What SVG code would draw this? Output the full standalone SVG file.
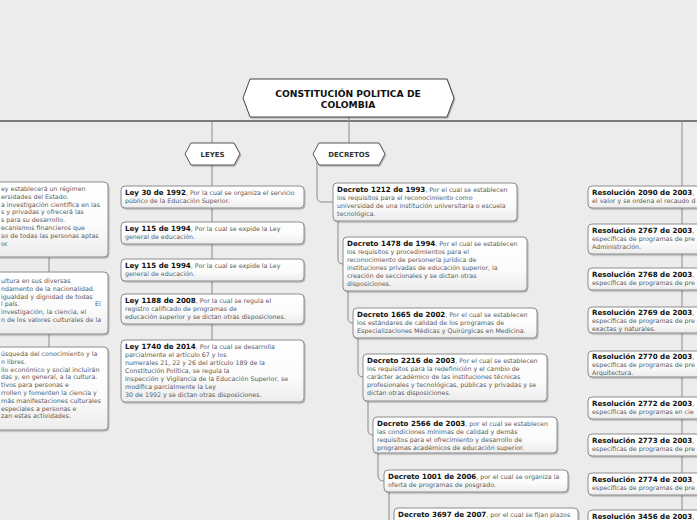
<svg xmlns="http://www.w3.org/2000/svg" width="697" height="520" viewBox="0 0 697 520">
<defs>
<linearGradient id="g" x1="0" y1="0" x2="0" y2="1"><stop offset="0" stop-color="#ffffff"/><stop offset="0.6" stop-color="#fbfbfb"/><stop offset="1" stop-color="#ececec"/></linearGradient>
<filter id="sh" x="-10%" y="-10%" width="120%" height="140%"><feDropShadow dx="1" dy="1.2" stdDeviation="0.7" flood-color="#000" flood-opacity="0.25"/></filter>
<style>
.bx{fill:url(#g);stroke:#8c8c8c;stroke-width:1;filter:url(#sh)}
.hx{fill:#fff;stroke:#444;stroke-width:1;filter:url(#sh)}
.t{font-family:"DejaVu Sans",Verdana,sans-serif;font-size:6.3px;fill:#5a5a5a}
.b{font-weight:bold;fill:#111;font-size:7.1px}
.h{font-family:"DejaVu Sans",Verdana,sans-serif;font-weight:bold;fill:#111;text-anchor:middle}
.c{fill:none;stroke:#8a8a8a;stroke-width:1}
</style>
</defs>
<rect width="697" height="520" fill="#ececec"/>
<g id="connectors">
<line x1="0" y1="121" x2="697" y2="121" stroke="#555" stroke-width="1.3"/>
<path class="c" d="M349,117 V143"/>
<path class="c" d="M212,121 V143"/>
<path class="c" d="M212,165 V186 M212,208 V222 M212,244 V259 M212,281 V294 M212,324 V340"/>
<path class="c" d="M317,162 V197 Q317,202 322,202 H333"/>
<path class="c" d="M338,221 V259 Q338,264 343,264 H343"/>
<path class="c" d="M348,291 V318 Q348,323 353,323"/>
<path class="c" d="M358,338 V372 Q358,377 363,377"/>
<path class="c" d="M368,401 V430 Q368,435 373,435"/>
<path class="c" d="M378,453 V476 Q378,481 384,481"/>
<path class="c" d="M389,491 V520"/>
<path class="c" d="M49,257 V272 M49,334 V347"/>
<path class="c" d="M682,121 V186 M682,208 V224 M682,254 V268 M682,290 V307 M682,333 V351 M682,377 V397 M682,419 V434 M682,456 V473 M682,495 V510"/>
</g>
<g id="title">
<polygon class="hx" points="243,98 250,79 447,79 454,98 447,117 250,117"/>
<text class="h" x="348" y="96.5" font-size="9.2">CONSTITUCIÓN POLITICA DE</text>
<text class="h" x="348" y="107.5" font-size="9.2">COLOMBIA</text>
</g>
<g id="leyes">
<polygon class="hx" points="185,154 191,143 234,143 240,154 234,165 191,165" style="stroke:#555"/>
<text class="h" x="212.5" y="156.5" font-size="7" style="fill:#333">LEYES</text>
</g>
<g id="decretos">
<polygon class="hx" points="313,154 319,143 379,143 385,154 379,165 319,165" style="stroke:#555"/>
<text class="h" x="349" y="156.5" font-size="7" style="fill:#333">DECRETOS</text>
</g>
<g id="ley1"><rect class="bx" x="121" y="186" width="183" height="22" rx="4"/>
<text class="t" x="125" y="195"><tspan class="b">Ley 30 de 1992</tspan>, Por la cual se organiza el servicio<tspan x="125" dy="8">público de la Educación Superior.</tspan></text></g>
<g id="ley2"><rect class="bx" x="121" y="222" width="183" height="22" rx="4"/>
<text class="t" x="125" y="231"><tspan class="b">Ley 115 de 1994</tspan>, Por la cual se expide la Ley<tspan x="125" dy="8">general de educación.</tspan></text></g>
<g id="ley3"><rect class="bx" x="121" y="259" width="183" height="22" rx="4"/>
<text class="t" x="125" y="268"><tspan class="b">Ley 115 de 1994</tspan>, Por la cual se expide la Ley<tspan x="125" dy="8">general de educación.</tspan></text></g>
<g id="ley4"><rect class="bx" x="121" y="294" width="183" height="30" rx="4"/>
<text class="t" x="125" y="303"><tspan class="b">Ley 1188 de 2008</tspan>, Por la cual se regula el<tspan x="125" dy="8">registro calificado de programas de</tspan><tspan x="125" dy="8">educación superior y se dictan otras disposiciones.</tspan></text></g>
<g id="ley5"><rect class="bx" x="121" y="340" width="183" height="62" rx="4"/>
<text class="t" x="125" y="349"><tspan class="b">Ley 1740 de 2014</tspan>, Por la cual se desarrolla<tspan x="125" dy="8">parcialmente el artículo 67 y los</tspan><tspan x="125" dy="8">numerales 21, 22 y 26 del artículo 189 de la</tspan><tspan x="125" dy="8">Constitución Política, se regula la</tspan><tspan x="125" dy="8">Inspección y Vigilancia de la Educación Superior, se</tspan><tspan x="125" dy="8">modifica parcialmente la Ley</tspan><tspan x="125" dy="8">30 de 1992 y se dictan otras disposiciones.</tspan></text></g>
<g id="dec1"><rect class="bx" x="333" y="183" width="184" height="38" rx="4"/>
<text class="t" x="337" y="192"><tspan class="b">Decreto 1212 de 1993</tspan>, Por el cual se establecen<tspan x="337" dy="8">los requisitos para el reconocimiento como</tspan><tspan x="337" dy="8">universidad de una institución universitaria o escuela</tspan><tspan x="337" dy="8">tecnológica.</tspan></text></g>
<g id="dec2"><rect class="bx" x="343" y="237" width="184" height="54" rx="4"/>
<text class="t" x="347" y="246"><tspan class="b">Decreto 1478 de 1994</tspan>, Por el cual se establecen<tspan x="347" dy="8">los requisitos y procedimientos para el</tspan><tspan x="347" dy="8">reconocimiento de personería jurídica de</tspan><tspan x="347" dy="8">instituciones privadas de educación superior, la</tspan><tspan x="347" dy="8">creación de seccionales y se dictan otras</tspan><tspan x="347" dy="8">disposiciones.</tspan></text></g>
<g id="dec3"><rect class="bx" x="353" y="308" width="184" height="30" rx="4"/>
<text class="t" x="357" y="317"><tspan class="b">Decreto 1665 de 2002</tspan>, Por el cual se establecen<tspan x="357" dy="8">los estándares de calidad de los programas de</tspan><tspan x="357" dy="8">Especializaciones Médicas y Quirúrgicas en Medicina.</tspan></text></g>
<g id="dec4"><rect class="bx" x="363" y="354" width="184" height="47" rx="4"/>
<text class="t" x="367" y="363"><tspan class="b">Decreto 2216 de 2003</tspan>, Por el cual se establecen<tspan x="367" dy="8">los requisitos para la redefinición y el cambio de</tspan><tspan x="367" dy="8">carácter académico de las instituciones técnicas</tspan><tspan x="367" dy="8">profesionales y tecnológicas, públicas y privadas y se</tspan><tspan x="367" dy="8">dictan otras disposiciones.</tspan></text></g>
<g id="dec5"><rect class="bx" x="373" y="417" width="184" height="36" rx="4"/>
<text class="t" x="377" y="426"><tspan class="b">Decreto 2566 de 2003</tspan>, por el cual se establecen<tspan x="377" dy="8">las condiciones mínimas de calidad y demás</tspan><tspan x="377" dy="8">requisitos para el ofrecimiento y desarrollo de</tspan><tspan x="377" dy="8">programas académicos de educación superior.</tspan></text></g>
<g id="dec6"><rect class="bx" x="384" y="470" width="184" height="22" rx="4"/>
<text class="t" x="388" y="479"><tspan class="b">Decreto 1001 de 2006</tspan>, por el cual se organiza la<tspan x="388" dy="8">oferta de programas de posgrado.</tspan></text></g>
<g id="dec7"><rect class="bx" x="394" y="508" width="184" height="30" rx="4"/>
<text class="t" x="398" y="517"><tspan class="b">Decreto 3697 de 2007</tspan>, por el cual se fijan plazos</text></g>
<g id="art1"><rect class="bx" x="-60" y="182" width="168" height="75" rx="4"/>
<text class="t" x="1" y="191">ey establecerá un régimen<tspan x="1" dy="7.8">ersidades del Estado.</tspan><tspan x="1" dy="7.8">a investigación científica en las</tspan><tspan x="1" dy="7.8">s y privadas y ofrecerá las</tspan><tspan x="1" dy="7.8">s para su desarrollo.</tspan><tspan x="1" dy="7.8">ecanismos financieros que</tspan><tspan x="1" dy="7.8">so de todas las personas aptas</tspan><tspan x="1" dy="7.8">or.</tspan></text></g>
<g id="art2"><rect class="bx" x="-60" y="272" width="168" height="62" rx="4"/>
<text class="t" x="1" y="283">ultura en sus diversas<tspan x="1" dy="7.8">ndamento de la nacionalidad.</tspan><tspan x="1" dy="7.8">igualdad y dignidad de todas</tspan><tspan x="1" dy="7.8">l país.</tspan><tspan x="95" dy="0">El</tspan><tspan x="1" dy="7.8">investigación, la ciencia, el</tspan><tspan x="1" dy="7.8">n de los valores culturales de la</tspan></text></g>
<g id="art3"><rect class="bx" x="-60" y="347" width="168" height="83" rx="4"/>
<text class="t" x="1" y="356">úsqueda del conocimiento y la<tspan x="1" dy="7.8">n libres.</tspan><tspan x="1" dy="7.8">llo económico y social incluirán</tspan><tspan x="1" dy="7.8">das y, en general, a la cultura.</tspan><tspan x="1" dy="7.8">tivos para personas e</tspan><tspan x="1" dy="7.8">rrollen y fomenten la ciencia y</tspan><tspan x="1" dy="7.8">más manifestaciones culturales</tspan><tspan x="1" dy="7.8">especiales a personas e</tspan><tspan x="1" dy="7.8">zan estas actividades.</tspan></text></g>
<g id="res1"><rect class="bx" x="588" y="186" width="140" height="22" rx="4"/>
<text class="t" x="592" y="195"><tspan class="b">Resolución 2090 de 2003</tspan>,<tspan x="592" dy="8">el valor y se ordena el recaudo d</tspan></text></g>
<g id="res2"><rect class="bx" x="588" y="224" width="140" height="30" rx="4"/>
<text class="t" x="592" y="233"><tspan class="b">Resolución 2767 de 2003</tspan>,<tspan x="592" dy="8">específicas de programas de pre</tspan><tspan x="592" dy="8">Administración.</tspan></text></g>
<g id="res3"><rect class="bx" x="588" y="268" width="140" height="22" rx="4"/>
<text class="t" x="592" y="277"><tspan class="b">Resolución 2768 de 2003</tspan>,<tspan x="592" dy="8">específicas de programas de pre</tspan></text></g>
<g id="res4"><rect class="bx" x="588" y="307" width="140" height="26" rx="4"/>
<text class="t" x="592" y="315"><tspan class="b">Resolución 2769 de 2003</tspan>,<tspan x="592" dy="8">específicas de programas de pre</tspan><tspan x="592" dy="8">exactas y naturales.</tspan></text></g>
<g id="res5"><rect class="bx" x="588" y="351" width="140" height="26" rx="4"/>
<text class="t" x="592" y="359"><tspan class="b">Resolución 2770 de 2003</tspan>,<tspan x="592" dy="8">específicas de programas de pre</tspan><tspan x="592" dy="8">Arquitectura.</tspan></text></g>
<g id="res6"><rect class="bx" x="588" y="397" width="140" height="22" rx="4"/>
<text class="t" x="592" y="406"><tspan class="b">Resolución 2772 de 2003</tspan>,<tspan x="592" dy="8">específicas de programas en cie</tspan></text></g>
<g id="res7"><rect class="bx" x="588" y="434" width="140" height="22" rx="4"/>
<text class="t" x="592" y="443"><tspan class="b">Resolución 2773 de 2003</tspan>,<tspan x="592" dy="8">específicas de programas de pre</tspan></text></g>
<g id="res8"><rect class="bx" x="588" y="473" width="140" height="22" rx="4"/>
<text class="t" x="592" y="482"><tspan class="b">Resolución 2774 de 2003</tspan>,<tspan x="592" dy="8">específicas de programas de pre</tspan></text></g>
<g id="res9"><rect class="bx" x="588" y="510" width="140" height="22" rx="4"/>
<text class="t" x="592" y="519"><tspan class="b">Resolución 3456 de 2003</tspan>,</text></g>
</svg>
